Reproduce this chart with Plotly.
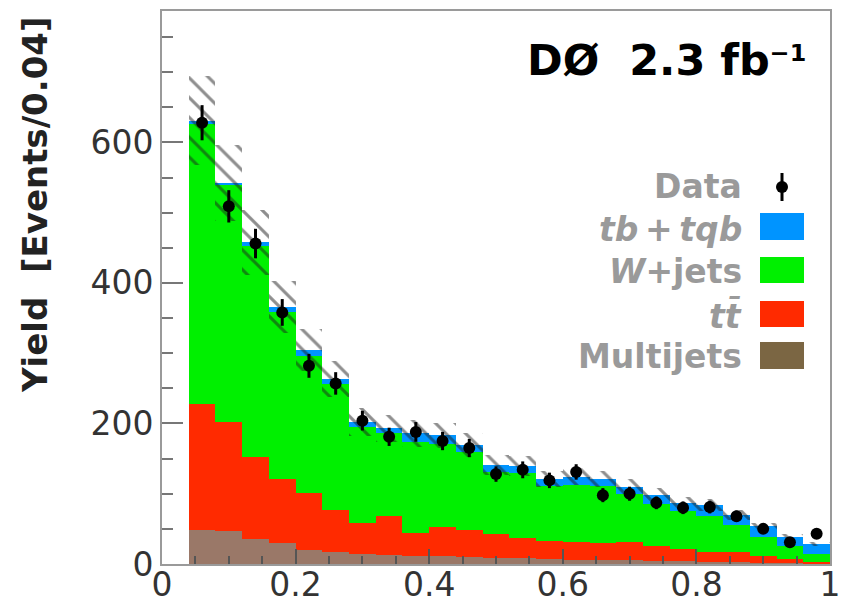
import numpy as np
import plotly.graph_objects as go

# ---- data ----
bin_centers = [0.06, 0.10, 0.14, 0.18, 0.22, 0.26, 0.30, 0.34, 0.38, 0.42, 0.46, 0.50,
               0.54, 0.58, 0.62, 0.66, 0.70, 0.74, 0.78, 0.82, 0.86, 0.90, 0.94, 0.98]
bin_width = 0.04
multijets = [49, 47, 36, 30, 20, 17, 14, 13, 11, 11, 10, 9, 8, 7, 6, 5, 5, 4, 4, 3, 3, 2, 1, 1]
ttbar = [179, 155, 116, 91, 81, 60, 44, 55, 33, 42, 38, 34, 29, 26, 25, 25, 26, 21, 17, 14, 14, 9, 6, 2]
wjets = [398, 337, 301, 237, 195, 179, 137, 118, 130, 118, 111, 88, 92, 78, 81, 81, 68, 61, 54, 52, 39, 27, 18, 11]
signal = [5, 3, 5, 8, 8, 7, 7, 7, 12, 12, 10, 10, 10, 10, 12, 10, 11, 12, 12, 15, 14, 16, 13, 14]
data = [628, 509, 456, 358, 282, 257, 204, 181, 188, 175, 165, 128, 134, 119, 131, 98, 100, 87,
        80, 81, 68, 50, 31, 43]
data_err = [25, 23, 21, 19, 17, 16, 14, 13, 14, 13, 13, 11, 12, 11, 11, 10, 10, 9, 9, 9, 8, 7, 6, 7]
syst_unc = [63, 54, 46, 37, 30, 26, 20, 19, 19, 18, 17, 14, 14, 12, 12, 12, 11, 10, 9, 8, 7, 5, 4, 3]

x_ticks = [0, 0.2, 0.4, 0.6, 0.8, 1.0]
x_ticklabels = ["0", "0.2", "0.4", "0.6", "0.8", "1"]
y_ticks = [0, 200, 400, 600]
y_ticklabels = ["0", "200", "400", "600"]

legend_labels = ["Data", "<i>tb</i>\u2009+\u2009<i>tqb</i>", "<i>W</i>+jets", "<i>t</i><i>t\u0304</i>", "Multijets"]

# ---- styles ----
FONT = "DejaVu Sans, Liberation Sans, Arial"
C_SIG = "#0094ff"
C_W = "#00f000"
C_TT = "#ff2a00"
C_MJ = "#9a7868"
C_MJ_LEG = "#7b6643"
LEG_GRAY = "#9a9a9a"

mj = np.array(multijets, float)
tt = np.array(ttbar, float)
wj = np.array(wjets, float)
sg = np.array(signal, float)
total = mj + tt + wj + sg
unc = np.array(syst_unc, float)

fig = go.Figure()
bases = [np.zeros_like(mj), mj, mj + tt, mj + tt + wj]
comps = [mj, tt, wj, sg]
colors = [C_MJ, C_TT, C_W, C_SIG]
for b, h, c in zip(bases, comps, colors):
    fig.add_trace(go.Bar(x=bin_centers, y=h, base=b, width=bin_width,
                         marker=dict(color=c, line=dict(width=0)), showlegend=False))

# hatched uncertainty band
fig.add_trace(go.Bar(x=bin_centers, y=2 * unc, base=total - unc, width=bin_width,
                     marker=dict(color="rgba(0,0,0,0)", line=dict(width=0),
                                 pattern=dict(shape="\\", fgcolor="#1e1e1e", bgcolor="rgba(0,0,0,0)",
                                              size=14, solidity=0.22)),
                     showlegend=False))

# data points
fig.add_trace(go.Scatter(x=bin_centers, y=data, mode="markers",
                         marker=dict(color="black", size=12),
                         error_y=dict(type="data", array=data_err, color="black", thickness=3, width=0),
                         showlegend=False))

# ---- layout ----
L, R, T, B = 162, 13, 11, 44
W, H = 843, 608
pw, ph = W - L - R, H - T - B

def px(x):
    return (x - L) / pw

def py(y):
    return (H - B - y) / ph

fig.update_layout(
    width=W, height=H, margin=dict(l=L, r=R, t=T, b=B, autoexpand=False),
    plot_bgcolor="white", paper_bgcolor="white", barmode="overlay", bargap=0,
    font=dict(family=FONT, color="#333"),
    xaxis=dict(range=[0, 1], tickvals=x_ticks, ticktext=x_ticklabels, ticks="inside",
               ticklen=15, tickwidth=1.5, tickcolor="#555", ticklabelstandoff=-10, automargin=False,
               minor=dict(dtick=0.05, ticks="inside", ticklen=8, tickwidth=1.5, tickcolor="#555"),
               showline=True, linecolor="#9a9a9a", linewidth=2, mirror=True,
               showgrid=False, zeroline=False, tickfont=dict(size=33, color="#333")),
    yaxis=dict(range=[0, 787], tickvals=y_ticks, ticktext=y_ticklabels, ticks="inside",
               ticklen=21, tickwidth=1.5, tickcolor="#777", automargin=False,
               minor=dict(dtick=50, ticks="inside", ticklen=11, tickwidth=1.5, tickcolor="#777"),
               showline=True, linecolor="#9a9a9a", linewidth=2, mirror=True,
               showgrid=False, zeroline=False, tickfont=dict(size=33, color="#333")),
)

annotations = [
    dict(text="<b>Yield\u00a0\u00a0[Events/0.04]</b>", x=px(35), y=py(205), xref="paper", yref="paper",
         textangle=-90, showarrow=False, font=dict(size=34, color="#222", family=FONT),
         xanchor="center", yanchor="middle"),
    dict(text="<b>D\u00d8\u00a0\u00a02.3\u00a0fb<span style='font-size:34px'><sup>\u22121</sup></span></b>",
         x=px(808), y=py(60),
         xref="paper", yref="paper", showarrow=False, font=dict(size=43, color="black", family=FONT),
         xanchor="right", yanchor="middle"),
]
leg_y = [186, 229, 271, 315, 356]
for lab, yy in zip(legend_labels, leg_y):
    annotations.append(dict(text="<b>" + lab + "</b>", x=px(744), y=py(yy), xref="paper", yref="paper",
                            showarrow=False, xanchor="right", yanchor="middle",
                            font=dict(size=33, color=LEG_GRAY, family=FONT)))
fig.update_layout(annotations=annotations)

shapes = []
sw = [(C_SIG, 213, 240), (C_W, 257, 283), (C_TT, 301, 327), (C_MJ_LEG, 342, 369)]
for c, y0, y1 in sw:
    shapes.append(dict(type="rect", xref="paper", yref="paper", x0=px(760), x1=px(804),
                       y0=py(y1), y1=py(y0), fillcolor=c, line=dict(width=0)))
shapes.append(dict(type="line", xref="paper", yref="paper", x0=px(782), x1=px(782),
                   y0=py(201), y1=py(173), line=dict(color="black", width=3)))
shapes.append(dict(type="circle", xref="paper", yref="paper", x0=px(776), x1=px(788),
                   y0=py(193), y1=py(181), fillcolor="black", line=dict(width=0)))
fig.update_layout(shapes=shapes)

fig.write_html("out.html")
